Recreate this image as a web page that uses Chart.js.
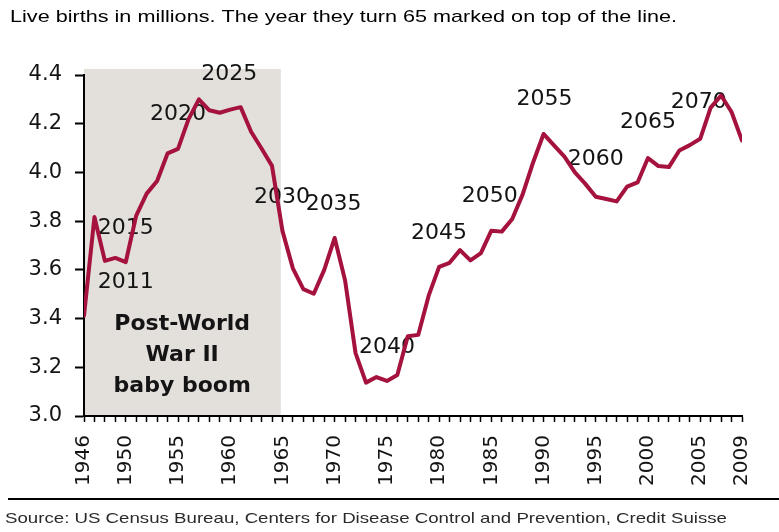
<!DOCTYPE html>
<html>
<head>
<meta charset="utf-8">
<script src="https://cdn.jsdelivr.net/npm/chart.js@4.4.0/dist/chart.umd.min.js"></script>
<style>
  html, body { margin: 0; padding: 0; background: #ffffff; }
  #wrap { width: 779px; height: 532px; position: relative; }
</style>
</head>
<body>
<div id="wrap"><canvas id="births" width="779" height="532"></canvas></div>
<script>
// US live births per year, in millions
const years = [
  1946, 1947, 1948, 1949, 1950, 1951, 1952, 1953, 1954, 1955,
  1956, 1957, 1958, 1959, 1960, 1961, 1962, 1963, 1964, 1965,
  1966, 1967, 1968, 1969, 1970, 1971, 1972, 1973, 1974, 1975,
  1976, 1977, 1978, 1979, 1980, 1981, 1982, 1983, 1984, 1985,
  1986, 1987, 1988, 1989, 1990, 1991, 1992, 1993, 1994, 1995,
  1996, 1997, 1998, 1999, 2000, 2001, 2002, 2003, 2004, 2005,
  2006, 2007, 2008, 2009
];
const births = [
  3.411, 3.817, 3.637, 3.649, 3.632, 3.823, 3.913, 3.965, 4.078, 4.097,
  4.218, 4.300, 4.255, 4.245, 4.258, 4.268, 4.167, 4.098, 4.027, 3.760,
  3.606, 3.521, 3.502, 3.600, 3.731, 3.556, 3.258, 3.137, 3.160, 3.144,
  3.168, 3.327, 3.333, 3.494, 3.612, 3.629, 3.681, 3.639, 3.669, 3.761,
  3.757, 3.809, 3.910, 4.041, 4.158, 4.111, 4.065, 4.000, 3.953, 3.900,
  3.891, 3.881, 3.942, 3.959, 4.059, 4.026, 4.022, 4.090, 4.112, 4.138,
  4.266, 4.316, 4.248, 4.131
];

// Axis ticks
const labeledYears = [1946, 1950, 1955, 1960, 1965, 1970, 1975, 1980, 1985, 1990, 1995, 2000, 2005, 2009];
const yTicks = [3.0, 3.2, 3.4, 3.6, 3.8, 4.0, 4.2, 4.4];

// "Turns 65" year markers, placed in data units (birth year, millions)
const turn65Labels = ['2011', '2015', '2020', '2025', '2030', '2035', '2040', '2045', '2050', '2055', '2060', '2065', '2070'];
const turn65AtYear = [1950.0, 1950.0, 1955.0, 1959.9, 1964.95, 1969.9, 1975.0, 1980.0, 1984.85, 1990.1, 1995.0, 2000.0, 2004.85];
const turn65AtValue = [3.550, 3.772, 4.240, 4.404, 3.899, 3.870, 3.283, 3.751, 3.903, 4.301, 4.055, 4.207, 4.289];

// Baby boom band
const boomFrom = 1946;
const boomTo = 1964.85;
const boomTop = 4.425;
const boomText = ['Post-World', 'War II', 'baby boom'];
const boomTextYear = 1955.4;
const boomTextValue = 3.378;

const titleText = 'Live births in millions. The year they turn 65 marked on top of the line.';
const sourceText = 'Source: US Census Bureau, Centers for Disease Control and Prevention, Credit Suisse';

const LINE_COLOR = '#a5123d';
const INK = '#141414';

// Shaded band behind the axes and the line
const boomBand = {
  id: 'boomBand',
  beforeDraw(chart) {
    const { ctx, scales: { x, y } } = chart;
    const left = x.getPixelForValue(boomFrom);
    const right = x.getPixelForValue(boomTo);
    const top = y.getPixelForValue(boomTop);
    const bottom = y.getPixelForValue(3.0);
    ctx.save();
    ctx.fillStyle = '#e3e0dc';
    ctx.fillRect(left, top, right - left, bottom - top);
    ctx.restore();
  }
};

// Year-turning-65 labels and the band caption
const markers = {
  id: 'markers',
  beforeDatasetsDraw(chart) {
    const { ctx, scales: { x, y } } = chart;
    ctx.save();
    ctx.fillStyle = INK;
    ctx.textAlign = 'center';
    ctx.textBaseline = 'middle';
    ctx.font = '22px "DejaVu Sans"';
    turn65Labels.forEach((t, i) => {
      ctx.fillText(t, x.getPixelForValue(turn65AtYear[i]), y.getPixelForValue(turn65AtValue[i]));
    });
    ctx.font = 'bold 22px "DejaVu Sans"';
    const cx = x.getPixelForValue(boomTextYear);
    const cy = y.getPixelForValue(boomTextValue);
    boomText.forEach((t, i) => ctx.fillText(t, cx, cy + i * 31));
    ctx.restore();
  }
};

// Heading, rule and source line
function stretchedText(ctx, text, x, y, font, width, color) {
  ctx.save();
  ctx.font = font;
  ctx.fillStyle = color;
  ctx.textAlign = 'left';
  ctx.textBaseline = 'middle';
  const w = ctx.measureText(text).width;
  ctx.translate(x, y);
  ctx.scale(width / w, 1);
  ctx.fillText(text, 0, 0);
  ctx.restore();
}
const frame = {
  id: 'frame',
  afterDraw(chart) {
    const { ctx } = chart;
    stretchedText(ctx, titleText, 10, 17, '17px "Liberation Sans"', 667, '#000000');
    ctx.save();
    ctx.strokeStyle = '#000';
    ctx.lineWidth = 2;
    ctx.beginPath();
    ctx.moveTo(8, 499);
    ctx.lineTo(779, 499);
    ctx.stroke();
    ctx.restore();
    stretchedText(ctx, sourceText, 5, 519, '15px "Liberation Sans"', 722, '#2a2a2a');
  }
};

new Chart(document.getElementById('births'), {
  type: 'line',
  data: {
    datasets: [{
      data: years.map((yr, i) => ({ x: yr, y: births[i] })),
      borderColor: LINE_COLOR,
      borderWidth: 4,
      borderJoinStyle: 'round',
      borderCapStyle: 'round',
      pointRadius: 0,
      tension: 0,
      fill: false
    }]
  },
  options: {
    responsive: false,
    animation: false,
    devicePixelRatio: 1,
    layout: { padding: { top: 75, right: 34, bottom: 0, left: 0 } },
    plugins: { legend: { display: false }, tooltip: { enabled: false }, title: { display: false } },
    scales: {
      x: {
        type: 'linear',
        min: 1946,
        max: 2009,
        afterBuildTicks: s => { s.ticks = years.map(v => ({ value: v })); },
        afterFit: s => { s.height = 116; },
        ticks: {
          autoSkip: false,
          minRotation: 90,
          maxRotation: 90,
          padding: 13,
          color: INK,
          font: { family: 'DejaVu Sans', size: 20 },
          callback: v => labeledYears.includes(v) ? String(v) : ''
        },
        grid: { drawOnChartArea: false, drawTicks: true, tickLength: 6, tickColor: '#000', tickWidth: 1.5 },
        border: { display: true, color: '#000', width: 2 }
      },
      y: {
        min: 3.0,
        max: 4.4,
        afterBuildTicks: s => { s.ticks = yTicks.map(v => ({ value: v })); },
        afterFit: s => { s.width = 84; },
        ticks: {
          padding: 13,
          color: INK,
          font: { family: 'DejaVu Sans', size: 21 },
          callback: v => Number(v).toFixed(1)
        },
        grid: { drawOnChartArea: false, drawTicks: true, tickLength: 9, tickColor: '#000', tickWidth: 2 },
        border: { display: true, color: '#000', width: 2 }
      }
    }
  },
  plugins: [boomBand, markers, frame]
});
</script>
</body>
</html>
